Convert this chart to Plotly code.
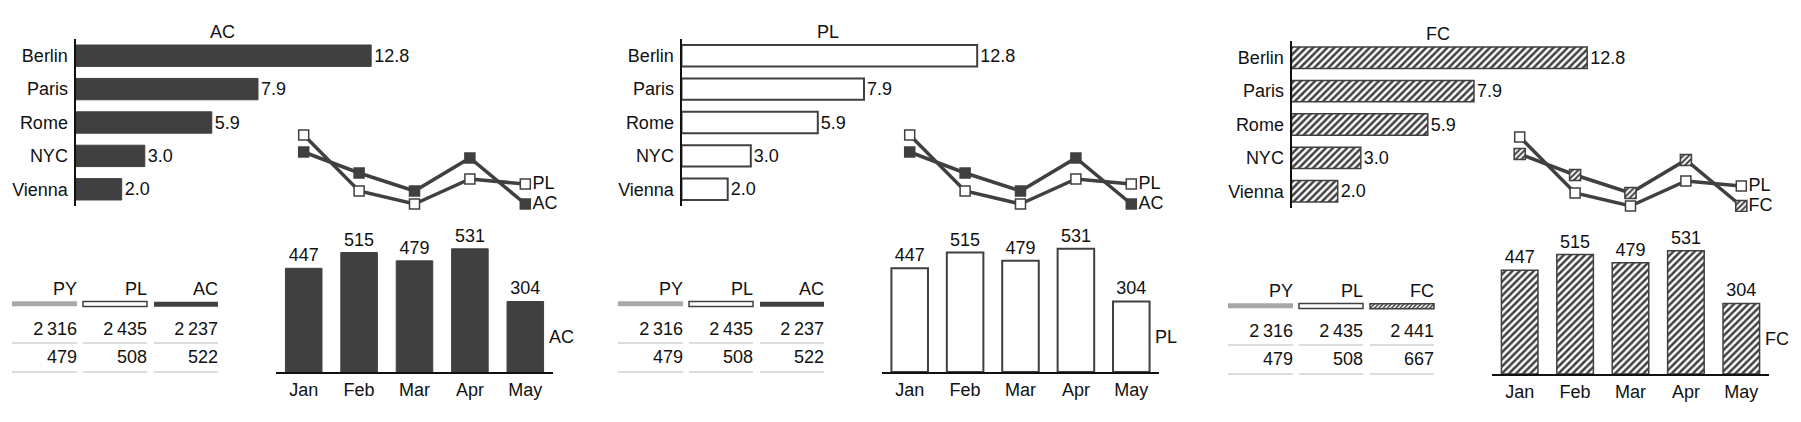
import plotly.graph_objects as go

# page is 1801x422; the browser body keeps an 8px margin around the plot div
PAGE_W, PAGE_H = 1801, 422
OFF = 8
W, H = PAGE_W - 2 * OFF, PAGE_H - 2 * OFF

# --- data ---
cities = ["Berlin", "Paris", "Rome", "NYC", "Vienna"]
city_values = [12.8, 7.9, 5.9, 3.0, 2.0]
months = ["Jan", "Feb", "Mar", "Apr", "May"]
month_values = [447, 515, 479, 531, 304]
# small trend chart (unlabelled in the original)
trend_actual = [68, 47, 29, 62, 16]
trend_plan = [85, 29, 16, 41, 36]
py_totals = [2316, 479]
pl_totals = [2435, 508]
ac_totals = [2237, 522]
fc_totals = [2441, 667]

panels = [
    dict(scen="AC", trend="AC", table=[("PY", py_totals), ("PL", pl_totals), ("AC", ac_totals)]),
    dict(scen="PL", trend="AC", table=[("PY", py_totals), ("PL", pl_totals), ("AC", ac_totals)]),
    dict(scen="FC", trend="FC", table=[("PY", py_totals), ("PL", pl_totals), ("FC", fc_totals)]),
]

# --- layout constants (page pixels) ---
DX = [0, 606, 1216]
DY = [0, 0, 2]
DARK = "#404040"
TXT = "#111111"
FONT = "Liberation Sans, Arial, Helvetica, sans-serif"

hatch = dict(shape="/", fgcolor=DARK, bgcolor="white", size=5, solidity=0.5)
bar_styles = {
    "AC": dict(color=DARK, line=dict(color=DARK, width=1)),
    "PL": dict(color="white", line=dict(color=DARK, width=2)),
    "FC": dict(color="white", line=dict(color=DARK, width=1.5), pattern=hatch),
}
header_styles = {
    "PY": dict(color="#a8a8a8", line=dict(width=0)),
    "PL": dict(color="white", line=dict(color=DARK, width=1.5)),
    "AC": dict(color=DARK, line=dict(width=0)),
    "FC": dict(color="white", line=dict(color=DARK, width=1.5),
               pattern=dict(shape="/", fgcolor=DARK, bgcolor="white", size=3, solidity=0.5)),
}
COL_L = [12, 83, 154]
COL_R = [77, 147, 218]


def xd(a, b):
    return [(a - OFF) / W, (b - OFF) / W]


def yd(top, bottom):
    return [1 - (bottom - OFF) / H, 1 - (top - OFF) / H]


def fmt(n):
    return f"{n:,}".replace(",", "\u2009")


fig = go.Figure()
axes = {}
shapes = []
annotations = []
n_axes = 0


def add_axes(xdom, ydom, xkw, ykw):
    global n_axes
    n_axes += 1
    s = "" if n_axes == 1 else str(n_axes)
    base = dict(showgrid=False, zeroline=False, fixedrange=True, automargin=False)
    axes["xaxis" + s] = dict(base, domain=xdom, anchor="y" + s, **xkw)
    axes["yaxis" + s] = dict(base, domain=ydom, anchor="x" + s, **ykw)
    return "x" + s, "y" + s


for p, panel in enumerate(panels):
    ox, oy = DX[p], DY[p]
    scen = panel["scen"]

    # --- horizontal bars (cities) ---
    xa, ya = add_axes(
        xd(75.5 + ox, 75.5 + ox + 14.5 * 23.1), yd(39 + oy, 206 + oy),
        dict(visible=False, range=[0, 14.5]),
        dict(type="category", categoryarray=cities, range=[4.5, -0.5], showline=True,
             linecolor=TXT, linewidth=2, ticks="", ticklabelstandoff=2),
    )
    fig.add_trace(go.Bar(
        x=city_values, y=cities, orientation="h", width=0.64, marker=bar_styles[scen],
        text=[f"{v:.1f}" for v in city_values], textposition="outside", constraintext="none",
        cliponaxis=False, xaxis=xa, yaxis=ya, showlegend=False, hoverinfo="skip",
    ))
    tx0, ty0 = xd(222 + ox, 222 + ox)[0], yd(32 + oy, 32 + oy)[0]
    annotations.append(dict(text=scen, xref="paper", yref="paper", x=tx0, y=ty0,
                            xanchor="center", yanchor="middle", showarrow=False))

    # --- trend lines ---
    xa, ya = add_axes(
        xd(276 + ox, 553 + ox), yd(130 + oy, 210 + oy),
        dict(visible=False, range=[-0.5, 4.5]),
        dict(visible=False, range=[10, 90]),
    )
    idx = list(range(len(months)))
    fig.add_trace(go.Scatter(
        x=idx, y=trend_plan, mode="lines+markers+text",
        line=dict(color=DARK, width=3.5),
        marker=dict(symbol="square", size=10, color="white", line=dict(color=DARK, width=1.5)),
        text=[""] * 4 + ["PL"], textposition="middle right", cliponaxis=False,
        xaxis=xa, yaxis=ya, showlegend=False, hoverinfo="skip",
    ))
    fig.add_trace(go.Scatter(
        x=idx, y=trend_actual, mode="lines+markers+text",
        line=dict(color=DARK, width=3.5),
        marker=dict(symbol="square", size=10, color=DARK, line=dict(color=DARK, width=1.5)),
        text=[""] * 4 + [panel["trend"]], textposition="middle right", cliponaxis=False,
        xaxis=xa, yaxis=ya, showlegend=False, hoverinfo="skip",
    ))
    if panel["trend"] == "FC":
        # hatched square markers, drawn on an overlaying subplot so they sit above the line
        base_x, base_y = xa, ya
        xo, yo = add_axes(
            xd(276 + ox, 553 + ox), yd(130 + oy, 210 + oy),
            dict(visible=False, range=[-0.5, 4.5], overlaying=base_x),
            dict(visible=False, range=[10, 90], overlaying=base_y),
        )
        fig.add_trace(go.Bar(
            x=idx, y=[11] * len(idx), base=[v - 5.5 for v in trend_actual], width=0.2,
            marker=dict(color="white", line=dict(color=DARK, width=1.5),
                        pattern=dict(shape="/", fgcolor=DARK, bgcolor="white", size=4, solidity=0.5)),
            xaxis=xo, yaxis=yo, showlegend=False, hoverinfo="skip",
        ))

    # --- monthly columns ---
    xa, ya = add_axes(
        xd(276 + ox, 553 + ox), yd(240 + oy, 372 + oy),
        dict(type="category", categoryarray=months, range=[-0.5, 4.5], showline=True,
             linecolor=TXT, linewidth=2, ticks=""),
        dict(visible=False, range=[0, 132 / 0.232]),
    )
    fig.add_trace(go.Bar(
        x=months, y=month_values, width=0.66, marker=bar_styles[scen],
        text=[str(v) for v in month_values], textposition="outside", constraintext="none",
        cliponaxis=False, xaxis=xa, yaxis=ya, showlegend=False, hoverinfo="skip",
    ))
    annotations.append(dict(text=scen, xref=xa, yref=ya, x=months[-1], y=month_values[-1] / 2,
                            xanchor="left", yanchor="middle", xshift=22, showarrow=False))

    # --- small table ---
    xa, ya = add_axes(
        xd(OFF + ox, 230 + ox), yd(270 + oy, 385 + oy),
        dict(visible=False, range=[OFF, 230]),
        dict(visible=False, range=[385, 270]),
    )
    tx, ty, tt = [], [], []
    for j, (name, vals) in enumerate(panel["table"]):
        fig.add_trace(go.Bar(
            y=[304], x=[COL_R[j] - COL_L[j]], base=[COL_L[j]], orientation="h",
            width=5, marker=header_styles[name],
            xaxis=xa, yaxis=ya, showlegend=False, hoverinfo="skip",
        ))
        tx += [COL_R[j]] * 3
        ty += [290, 330, 358]
        tt += [name] + [fmt(v) for v in vals]
        for sy in (343, 372):
            shapes.append(dict(type="line", xref=xa, yref=ya, x0=COL_L[j], x1=COL_R[j],
                               y0=sy, y1=sy, line=dict(color="#d0d0d0", width=1.5)))
    fig.add_trace(go.Scatter(
        x=tx, y=ty, text=tt, mode="text", textposition="middle left", cliponaxis=False,
        xaxis=xa, yaxis=ya, showlegend=False, hoverinfo="skip",
    ))

fig.update_layout(
    template="none",
    width=W, height=H,
    margin=dict(l=0, r=0, t=0, b=0),
    paper_bgcolor="white",
    plot_bgcolor="rgba(0,0,0,0)",
    font=dict(family=FONT, size=18, color=TXT),
    shapes=shapes,
    annotations=annotations,
    **axes,
)

fig.write_html("out.html")
